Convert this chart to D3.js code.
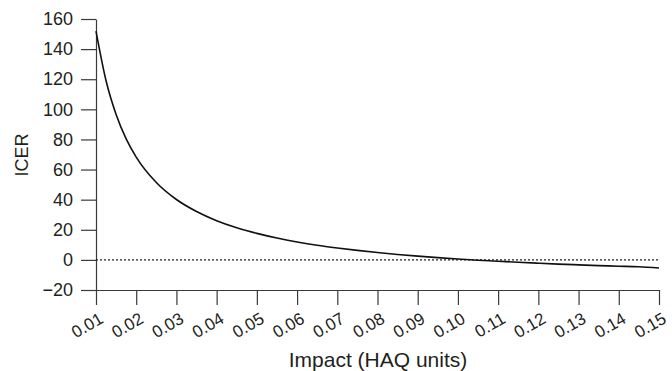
<!DOCTYPE html>
<html>
<head>
<meta charset="utf-8">
<script src="https://cdn.jsdelivr.net/npm/d3@7"></script>
<style>
  body { margin: 0; background: #fff; }
  text { font-family: "Liberation Sans", Arial, sans-serif; fill: #231f20; }
</style>
</head>
<body>
<svg id="chart" width="672" height="371"></svg>
<script>
// impact values (HAQ units) and the ICER
var impact = [0.01, 0.0125, 0.015, 0.0175, 0.02, 0.025, 0.03, 0.035, 0.04, 0.045,
              0.05, 0.055, 0.06, 0.065, 0.07, 0.075, 0.08, 0.085, 0.09, 0.095,
              0.10, 0.105, 0.11, 0.115, 0.12, 0.125, 0.13, 0.135, 0.14, 0.145, 0.15];
var icer = [152, 119, 96.6, 80.4, 68.3, 51.4, 40.1, 32.1, 26.0, 21.3,
            17.6, 14.5, 11.9, 9.7, 7.9, 6.3, 4.9, 3.6, 2.5, 1.5,
            0.6, -0.2, -0.9, -1.6, -2.2, -2.8, -3.3, -3.8, -4.2, -4.6, -5.4];
var xTicks = [0.01, 0.02, 0.03, 0.04, 0.05, 0.06, 0.07, 0.08, 0.09, 0.10,
              0.11, 0.12, 0.13, 0.14, 0.15];
var yTicks = [-20, 0, 20, 40, 60, 80, 100, 120, 140, 160];

var margin = {top: 19, right: 13, bottom: 81, left: 96},
    svg = d3.select("#chart"),
    width = +svg.attr("width") - margin.left - margin.right,
    height = +svg.attr("height") - margin.top - margin.bottom;

var x = d3.scaleLinear().domain([0.01, 0.15]).range([0, width]),
    y = d3.scaleLinear().domain([-20, 160]).range([height, 0]);

var g = svg.append("g")
    .attr("transform", "translate(" + margin.left + "," + margin.top + ")");

function styleAxis(a) {
  a.attr("font-size", null).attr("font-family", null);
  a.select(".domain").attr("stroke", "#3a3a3a").attr("stroke-width", 1.2);
  a.selectAll(".tick line").attr("stroke", "#3a3a3a").attr("stroke-width", 1.2);
}

var xAxis = g.append("g")
    .attr("transform", "translate(0," + height + ")")
    .call(d3.axisBottom(x).tickValues(xTicks).tickFormat(d3.format(".2f"))
          .tickSizeInner(15).tickSizeOuter(0))
    .call(styleAxis);

xAxis.selectAll(".tick text")
    .style("font-size", "17px")
    .attr("text-anchor", "end")
    .attr("dy", null)
    .attr("y", 0)
    .attr("transform", "translate(8,32) rotate(-30)");

var yAxis = g.append("g")
    .call(d3.axisLeft(y).tickValues(yTicks)
          .tickFormat(function(d) { return d < 0 ? "\u2212" + Math.abs(d) : d; })
          .tickSizeInner(15).tickSizeOuter(0).tickPadding(8))
    .call(styleAxis);

yAxis.selectAll(".tick text")
    .style("font-size", "18px");

// zero reference line
g.append("line")
    .attr("x1", 0).attr("x2", width)
    .attr("y1", y(0)).attr("y2", y(0))
    .attr("stroke", "#222")
    .attr("stroke-width", 1.2)
    .attr("stroke-dasharray", "2,2");

var line = d3.line()
    .x(function(d, i) { return x(impact[i]); })
    .y(function(d) { return y(d); })
    .curve(d3.curveMonotoneX);

g.append("path")
    .datum(icer)
    .attr("fill", "none")
    .attr("stroke", "#111")
    .attr("stroke-width", 1.6)
    .attr("d", line);

svg.append("text")
    .attr("transform", "translate(28,155) rotate(-90)")
    .attr("text-anchor", "middle")
    .style("font-size", "18px")
    .text("ICER");

svg.append("text")
    .attr("x", 378)
    .attr("y", 367)
    .attr("text-anchor", "middle")
    .style("font-size", "21px")
    .text("Impact (HAQ units)");
</script>
</body>
</html>
